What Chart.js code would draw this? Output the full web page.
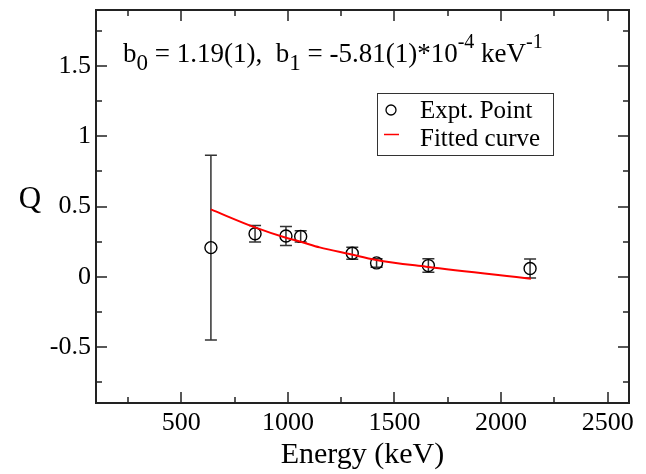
<!DOCTYPE html>
<html>
<head>
<meta charset="utf-8">
<script src="https://cdn.jsdelivr.net/npm/chart.js@4.4.0/dist/chart.umd.min.js"></script>
<style>
  html, body { margin: 0; padding: 0; background: #fff; }
  #wrap { width: 646px; height: 474px; }
</style>
</head>
<body>
<div id="wrap"><canvas id="qChart" width="646" height="474"></canvas></div>
<script>
// Measured points: energy (keV), Q and its uncertainty
const energy = [639, 846, 991, 1060, 1302, 1416, 1659, 2136];
const qValue = [0.207, 0.306, 0.29, 0.287, 0.167, 0.098, 0.079, 0.058];
const qError = [0.659, 0.059, 0.068, 0.04, 0.042, 0.03, 0.048, 0.068];

// Fitted curve, sampled along the energy range
const fitEnergy = [639, 846, 991, 1060, 1149, 1289, 1414, 1648, 2140];
const fitQ = [0.479, 0.351, 0.277, 0.249, 0.209, 0.161, 0.119, 0.071, -0.014];

// Axis ticks
const xTicks = [500, 1000, 1500, 2000, 2500];
const xMinorTicks = [250, 750, 1250, 1750, 2250];
const yTicks = [-0.5, 0, 0.5, 1, 1.5];
const yMinorTicks = [-0.75, -0.25, 0.25, 0.75, 1.25, 1.75];

const SERIF = '"Liberation Serif", "Times New Roman", serif';
const AXIS_COLOR = '#222';

// Vertical error bars with caps
const errorBars = {
  id: 'errorBars',
  beforeDatasetsDraw(chart) {
    const { ctx, scales: { x, y } } = chart;
    ctx.save();
    ctx.strokeStyle = '#333';
    ctx.lineWidth = 1.5;
    energy.forEach((e, i) => {
      const px = x.getPixelForValue(e);
      const top = y.getPixelForValue(qValue[i] + qError[i]);
      const bot = y.getPixelForValue(qValue[i] - qError[i]);
      ctx.beginPath();
      ctx.moveTo(px, top); ctx.lineTo(px, bot);
      ctx.moveTo(px - 6, top); ctx.lineTo(px + 6, top);
      ctx.moveTo(px - 6, bot); ctx.lineTo(px + 6, bot);
      ctx.stroke();
    });
    ctx.restore();
  }
};

// Frame with inward ticks on all four sides, plus the free text
const frame = {
  id: 'frame',
  afterDraw(chart) {
    const { ctx, chartArea: a, scales: { x, y } } = chart;
    ctx.save();
    ctx.strokeStyle = AXIS_COLOR;
    ctx.lineWidth = 2;
    ctx.strokeRect(a.left, a.top, a.width, a.height);

    ctx.lineWidth = 1.5;
    ctx.beginPath();
    const xt = (vals, len) => vals.forEach(v => {
      const px = Math.round(x.getPixelForValue(v));
      ctx.moveTo(px, a.bottom); ctx.lineTo(px, a.bottom - len);
      ctx.moveTo(px, a.top); ctx.lineTo(px, a.top + len);
    });
    const yt = (vals, len) => vals.forEach(v => {
      const py = Math.round(y.getPixelForValue(v));
      ctx.moveTo(a.left, py); ctx.lineTo(a.left + len, py);
      ctx.moveTo(a.right, py); ctx.lineTo(a.right - len, py);
    });
    xt(xTicks, 11); xt(xMinorTicks, 6);
    yt(yTicks, 11); yt(yMinorTicks, 6);
    ctx.stroke();

    // y axis title, upright
    ctx.fillStyle = '#000';
    ctx.font = '31px ' + SERIF;
    ctx.textAlign = 'center';
    ctx.textBaseline = 'alphabetic';
    ctx.fillText('Q', 30, 208);

    // fit parameters
    const runs = [
      ['b', 0], ['0', 1], [' = 1.19(1),  b', 0], ['1', 1],
      [' = -5.81(1)*10', 0], ['-4', 2], [' keV', 0], ['-1', 2]
    ];
    let tx = 123;
    const base = 62;
    ctx.textAlign = 'left';
    runs.forEach(([t, kind]) => {
      ctx.font = (kind === 0 ? '27px ' : kind === 1 ? '23px ' : '20px ') + SERIF;
      const dy = kind === 1 ? 8 : kind === 2 ? -14 : 0;
      ctx.fillText(t, tx, base + dy);
      tx += ctx.measureText(t).width;
    });

    // legend
    ctx.lineWidth = 1;
    ctx.strokeStyle = '#333';
    ctx.strokeRect(377.5, 93.5, 176, 62);
    ctx.font = '25px ' + SERIF;
    ctx.fillText(chart.data.datasets[1].label, 420, 118);
    ctx.fillText(chart.data.datasets[0].label, 420, 146);
    ctx.beginPath();
    ctx.arc(391, 110, 5, 0, Math.PI * 2);
    ctx.strokeStyle = '#000';
    ctx.lineWidth = 1.3;
    ctx.stroke();
    ctx.beginPath();
    ctx.moveTo(384, 134.5); ctx.lineTo(399, 134.5);
    ctx.strokeStyle = '#ff0000';
    ctx.lineWidth = 1.5;
    ctx.stroke();
    ctx.restore();
  }
};

new Chart(document.getElementById('qChart'), {
  type: 'scatter',
  data: {
    datasets: [
      {
        type: 'line',
        label: 'Fitted curve',
        data: fitEnergy.map((e, i) => ({ x: e, y: fitQ[i] })),
        borderColor: '#ff0000',
        borderWidth: 2,
        pointRadius: 0,
        cubicInterpolationMode: 'monotone',
        fill: false
      },
      {
        label: 'Expt. Point',
        data: energy.map((e, i) => ({ x: e, y: qValue[i] })),
        pointStyle: 'circle',
        pointRadius: 6,
        borderColor: '#000',
        backgroundColor: 'rgba(0,0,0,0)',
        borderWidth: 1.4
      }
    ]
  },
  options: {
    responsive: false,
    animation: false,
    devicePixelRatio: 1,
    layout: { padding: { top: 10, right: 17, left: 0, bottom: 0 } },
    plugins: { legend: { display: false }, tooltip: { enabled: false } },
    scales: {
      x: {
        type: 'linear',
        min: 100,
        max: 2600,
        afterBuildTicks: s => { s.ticks = xTicks.map(v => ({ value: v })); },
        afterFit: s => { s.height = 71; s.paddingLeft = 0; s.paddingRight = 0; },
        grid: { display: false, drawTicks: false },
        border: { display: false },
        ticks: {
          color: '#000',
          padding: 5,
          maxRotation: 0,
          font: { family: SERIF, size: 26 },
          callback: v => String(v)
        },
        title: {
          display: true,
          text: 'Energy (keV)',
          color: '#000',
          font: { family: SERIF, size: 30 },
          padding: { top: 0, bottom: 1 }
        }
      },
      y: {
        type: 'linear',
        min: -0.9,
        max: 1.9,
        afterBuildTicks: s => { s.ticks = yTicks.map(v => ({ value: v })); },
        afterFit: s => { s.width = 96; s.paddingTop = 0; s.paddingBottom = 0; },
        grid: { display: false, drawTicks: false },
        border: { display: false },
        ticks: {
          color: '#000',
          padding: 5,
          font: { family: SERIF, size: 26 },
          callback: v => String(v)
        }
      }
    }
  },
  plugins: [errorBars, frame]
});
</script>
</body>
</html>
